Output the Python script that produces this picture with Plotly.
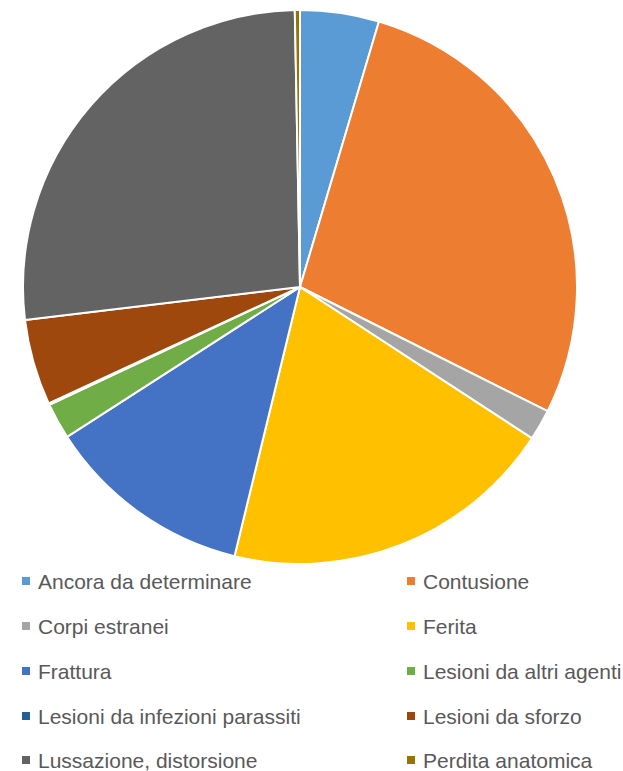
import plotly.graph_objects as go

labels = ["Ancora da determinare", "Contusione", "Corpi estranei", "Ferita", "Frattura",
          "Lesioni da altri agenti", "Lesioni da infezioni parassiti", "Lesioni da sforzo",
          "Lussazione, distorsione", "Perdita anatomica"]
values = [4.6, 27.8, 1.8, 19.6, 12.1, 2.1, 0.1, 5.0, 26.6, 0.3]
colors = ["#5B9BD5", "#ED7D31", "#A5A5A5", "#FFC000", "#4472C4",
          "#70AD47", "#255E91", "#9E480E", "#636363", "#997300"]

W, H = 623, 771


def px(x):
    return x / W


def py(y):
    return 1 - y / H


fig = go.Figure(go.Pie(
    labels=labels, values=values, sort=False, direction="clockwise", rotation=0,
    marker=dict(colors=colors, line=dict(color="white", width=2)),
    textinfo="none", hoverinfo="label+percent", showlegend=False,
    domain=dict(x=[px(23), px(577)], y=[py(564), py(10)]),
))

# legend, two columns
col_sq = [22, 407]
col_tx = [36, 421]
row_y = [581, 626, 671, 716, 760]
shapes, annots = [], []
for i, (lab, c) in enumerate(zip(labels, colors)):
    r, col = divmod(i, 2)
    y = row_y[r]
    shapes.append(dict(type="rect", xref="paper", yref="paper",
                       x0=px(col_sq[col]), x1=px(col_sq[col] + 8),
                       y0=py(y - 4), y1=py(y + 4),
                       fillcolor=c, line=dict(width=0)))
    annots.append(dict(text=lab, xref="paper", yref="paper", x=px(col_tx[col]), y=py(y),
                       xanchor="left", yanchor="middle", showarrow=False,
                       font=dict(family="Liberation Sans, Arial", size=21, color="#595959")))

fig.update_layout(width=W, height=H, margin=dict(l=0, r=0, t=0, b=0),
                  paper_bgcolor="white", plot_bgcolor="white",
                  shapes=shapes, annotations=annots)
fig.write_html("out.html", config={"displayModeBar": False},
               post_script="document.body.style.margin='0';document.body.style.overflow='hidden';")
